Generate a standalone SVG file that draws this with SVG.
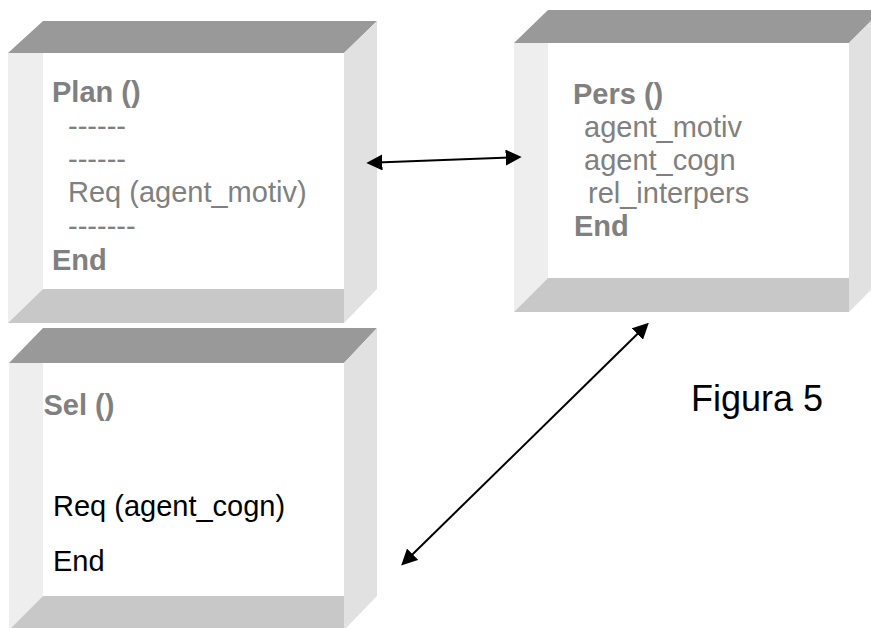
<svg xmlns="http://www.w3.org/2000/svg" width="871" height="628" viewBox="0 0 871 628">
  <style>
    .top { fill: #999999; }
    .left { fill: #eeeeee; }
    .right { fill: #e1e1e1; }
    .bottom { fill: #c8c8c8; }
    .front { fill: #ffffff; }
    text { font-family: "Liberation Sans", Arial, sans-serif; font-size: 29px; }
    .g { fill: #808080; }
    .k { fill: #000000; }
    .b { font-weight: bold; }
    .fig { font-size: 36px; fill: #000000; }
    .conn { stroke: #000000; stroke-width: 2; fill: none; marker-start: url(#head); marker-end: url(#head); }
  </style>
  <defs>
    <marker id="head" markerUnits="userSpaceOnUse" markerWidth="16" markerHeight="16" viewBox="0 0 15 15" refX="5" refY="7.5" orient="auto-start-reverse">
      <path d="M0,0 L15,7.5 L0,15 z" fill="#000000"/>
    </marker>
  </defs>

  <!-- Plan box -->
  <g id="plan">
    <polygon class="front" points="43,53 344,53 344,289 43,289"/>
    <polygon class="top" points="8,53 43,21 377,21 344,53"/>
    <polygon class="left" points="8,53 43,53 43,289 8,323"/>
    <polygon class="right" points="344,53 377,21 377,289 344,323"/>
    <polygon class="bottom" points="43,289 344,289 344,323 8,323"/>
    <text class="g b" x="52" y="102">Plan ()</text>
    <text class="g" x="68" y="135.5">------</text>
    <text class="g" x="68" y="169">------</text>
    <text class="g" x="68" y="202">Req (agent_motiv)</text>
    <text class="g" x="68" y="236">-------</text>
    <text class="g b" x="52" y="270">End</text>
  </g>

  <!-- Pers box -->
  <g id="pers">
    <polygon class="front" points="548,43 849,43 849,278 548,278"/>
    <polygon class="top" points="514,43 548,10 882,10 849,43"/>
    <polygon class="left" points="514,43 548,43 548,278 514,312"/>
    <polygon class="right" points="849,43 882,10 882,279 849,312"/>
    <polygon class="bottom" points="548,278 849,278 849,312 514,312"/>
    <text class="g b" x="573" y="104">Pers ()</text>
    <text class="g" x="584" y="137">agent_motiv</text>
    <text class="g" x="584" y="170">agent_cogn</text>
    <text class="g" x="588" y="203">rel_interpers</text>
    <text class="g b" x="574" y="236">End</text>
  </g>

  <!-- Sel box -->
  <g id="sel">
    <polygon class="front" points="43,363 344,363 344,596 43,596"/>
    <polygon class="top" points="9,363 43,328 377,328 344,363"/>
    <polygon class="left" points="9,363 43,363 43,596 9,630"/>
    <polygon class="right" points="344,363 377,328 377,596 344,630"/>
    <polygon class="bottom" points="43,596 344,596 344,630 9,630"/>
    <text class="g b" x="43.5" y="415">Sel ()</text>
    <text class="k" x="53" y="516">Req (agent_cogn)</text>
    <text class="k" x="53" y="571">End</text>
  </g>

  <!-- Caption -->
  <g id="caption">
    <text class="fig" x="691" y="411">Figura 5</text>
  </g>

  <!-- Connectors -->
  <g id="connectors">
    <line class="conn" x1="377" y1="162.6" x2="511" y2="157.4"/>
    <line class="conn" x1="641.2" y1="330.3" x2="408.8" y2="558"/>
  </g>
</svg>
